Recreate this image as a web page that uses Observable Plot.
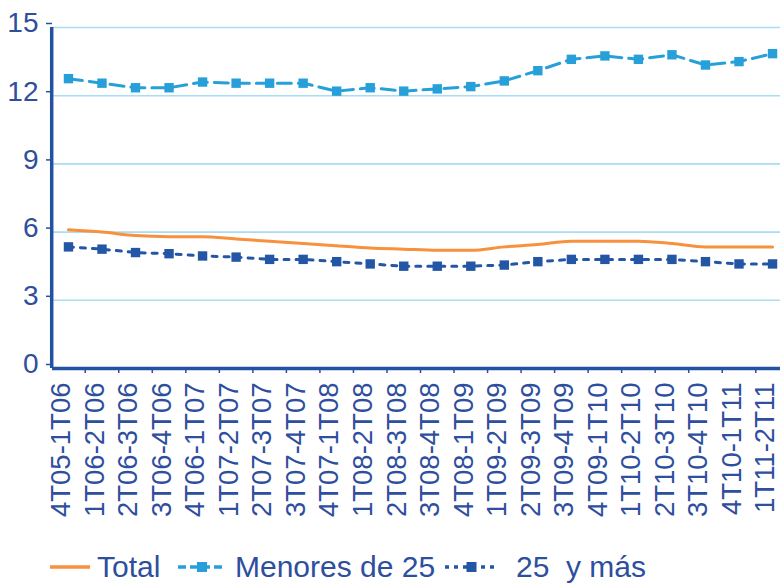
<!DOCTYPE html>
<html>
<head>
<meta charset="utf-8">
<script src="https://cdn.jsdelivr.net/npm/d3@7"></script>
<script src="https://cdn.jsdelivr.net/npm/@observablehq/plot@0.6"></script>
<style>
  html, body { margin: 0; padding: 0; background: #fff; overflow: hidden; }
  #wrap { position: relative; width: 780px; height: 583px; font-family: "Liberation Sans", Arial, sans-serif; }
  #legend { position: absolute; left: 0; top: 545px; width: 780px; height: 38px; }
  .item { position: absolute; top: 0; height: 38px; display: flex; align-items: center; color: #2E4E9E; font-size: 30px; white-space: pre; }
  .item svg { display: block; }
</style>
</head>
<body>
<div id="wrap"><div id="chart"></div><div id="legend"></div></div>
<script>
const labels = ["4T05-1T06","1T06-2T06","2T06-3T06","3T06-4T06","4T06-1T07","1T07-2T07","2T07-3T07","3T07-4T07","4T07-1T08","1T08-2T08","2T08-3T08","3T08-4T08","4T08-1T09","1T09-2T09","2T09-3T09","3T09-4T09","4T09-1T10","1T10-2T10","2T10-3T10","3T10-4T10","4T10-1T11","1T11-2T11"];
const total   = [6.1, 6.0, 5.85, 5.8, 5.8, 5.7, 5.6, 5.5, 5.4, 5.3, 5.25, 5.2, 5.2, 5.35, 5.45, 5.6, 5.6, 5.6, 5.5, 5.35, 5.35, 5.35];
const menores = [12.75, 12.55, 12.35, 12.35, 12.6, 12.55, 12.55, 12.55, 12.2, 12.35, 12.2, 12.3, 12.4, 12.65, 13.1, 13.6, 13.75, 13.6, 13.8, 13.35, 13.5, 13.85];
const mas25   = [5.35, 5.25, 5.1, 5.05, 4.95, 4.9, 4.8, 4.8, 4.7, 4.6, 4.5, 4.5, 4.5, 4.55, 4.7, 4.8, 4.8, 4.8, 4.8, 4.7, 4.6, 4.6];
const yTicks = [0, 3, 6, 9, 12, 15];
const seriesNames = ["Total", "Menores de 25", "25  y más"];

const cOrange = "#F7913D", cLight = "#27A0DA", cDark = "#2456A6", cText = "#2E4E9E", cGrid = "#A8DDF4", cAxis = "#2352A0";
const idx = d3.range(labels.length);
const bounds = d3.range(labels.length - 1).map(i => i + 0.5);

const chart = Plot.plot({
  width: 780,
  height: 545,
  marginLeft: 52,
  marginRight: 0,
  marginTop: 27,
  marginBottom: 177,
  style: {fontFamily: '"Liberation Sans", Arial, sans-serif', background: "#fff"},
  x: {type: "linear", domain: [-0.5, labels.length - 0.5], range: [51.2, 788.8], axis: null},
  y: {domain: [0, 15], axis: null},
  marks: [
    Plot.ruleY(yTicks.filter(d => d > 0), {stroke: cGrid, strokeWidth: 1.6}),
    Plot.axisY({ticks: yTicks, tickSize: 6, tickPadding: 8, fontSize: 28, color: cText, stroke: cAxis, strokeWidth: 1.5, dy: -4}),
    Plot.axisX({ticks: bounds, tickSize: 5, tickFormat: () => "", stroke: cAxis, strokeWidth: 1.5}),
    Plot.ruleY([0], {stroke: cAxis, strokeWidth: 3.5}),
    Plot.ruleX([-0.5], {y1: 0, y2: 15, stroke: cAxis, strokeWidth: 3.5}),
    Plot.text(labels, {x: (d, i) => i, y: () => 0, text: d => d, rotate: -90, textAnchor: "end", lineAnchor: "middle", dy: 14, dx: -7, fontSize: 27.5, fill: cText}),
    Plot.line(idx, {x: i => i, y: i => total[i], stroke: cOrange, strokeWidth: 3, curve: "monotone-x"}),
    Plot.line(idx, {x: i => i, y: i => menores[i], stroke: cLight, strokeWidth: 3, strokeDasharray: "14,7"}),
    Plot.dot(idx, {x: i => i, y: i => menores[i], symbol: "square", r: 5.3, fill: cLight}),
    Plot.line(idx, {x: i => i, y: i => mas25[i], stroke: cDark, strokeWidth: 3, strokeDasharray: "5,7"}),
    Plot.dot(idx, {x: i => i, y: i => mas25[i], symbol: "square", r: 5.3, fill: cDark})
  ]
});
document.getElementById("chart").appendChild(chart);

// legend
const legend = document.getElementById("legend");
const items = [
  {name: seriesNames[0], left: 50, sw: 40, color: cOrange, dash: null, marker: false},
  {name: seriesNames[1], left: 178, sw: 48, color: cLight, dash: "8,4", marker: true},
  {name: seriesNames[2], left: 445, sw: 53, color: cDark, dash: "4,5", marker: true}
];
const gaps = [7, 9, 18];
items.forEach((it, k) => {
  const div = document.createElement("div");
  div.className = "item";
  div.style.left = it.left + "px";
  const svg = d3.create("svg").attr("width", it.sw).attr("height", 38);
  svg.append("line").attr("x1", 0).attr("x2", it.sw).attr("y1", 22).attr("y2", 22)
    .attr("stroke", it.color).attr("stroke-width", 3.5).attr("stroke-dasharray", it.dash);
  if (it.marker) svg.append("rect").attr("x", it.sw / 2 - 5).attr("y", 17).attr("width", 10).attr("height", 10).attr("fill", it.color);
  div.appendChild(svg.node());
  const span = document.createElement("span");
  span.textContent = it.name;
  span.style.marginLeft = gaps[k] + "px";
  span.style.marginTop = "6px";
  div.appendChild(span);
  legend.appendChild(div);
});
</script>
</body>
</html>
